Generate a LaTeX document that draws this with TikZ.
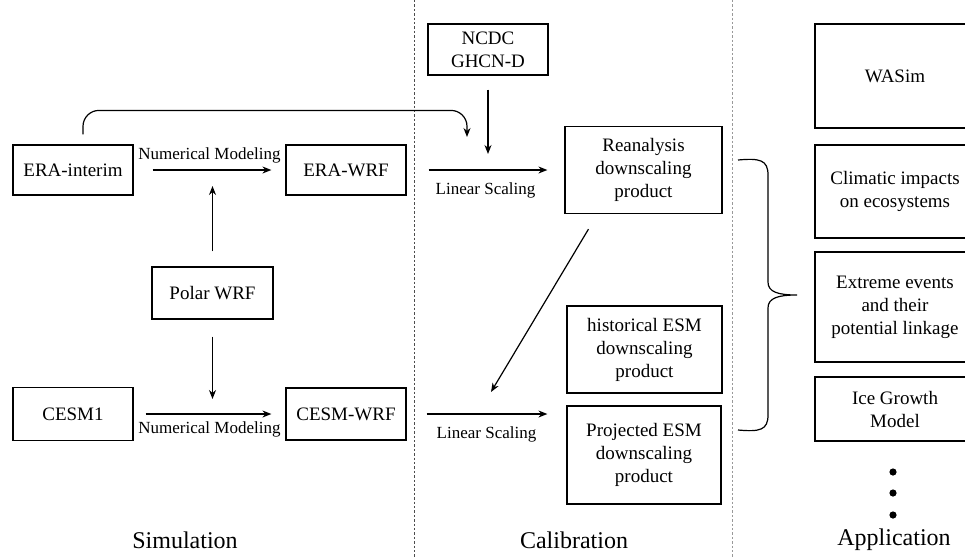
\documentclass[tikz,border=0pt]{standalone}
\usepackage{fontspec}
\setmainfont{Liberation Serif}
\usetikzlibrary{arrows.meta}
\begin{document}
\begin{tikzpicture}[x=0.5pt,y=-0.5pt,
  box/.style={draw, line width=0.6pt, align=center, inner sep=0pt, font=\fontsize{9.5}{11.5}\selectfont},
  lbl/.style={font=\fontsize{8.5}{10}\selectfont, inner sep=1pt},
  ttl/.style={font=\fontsize{12}{14}\selectfont},
  arr/.style={-{Stealth[length=4.5pt,width=3.5pt]}, line width=0.6pt},
  sep/.style={line width=0.4pt, dash pattern=on 1.2pt off 1pt}]
\useasboundingbox (0,0) rectangle (965,558);
\clip (0,0) rectangle (965,558);
% separators
\draw[sep, black!70] (414,0) -- (414,558);
\draw[sep, black!40] (732,0) -- (732,558);
% simulation
\node[box, minimum width=60pt, minimum height=25pt] (era) at (73,170) {ERA-interim};
\node[box, minimum width=60pt, minimum height=25pt] (erawrf) at (346,170) {ERA-WRF};
\node[box, minimum width=60.5pt, minimum height=26pt] (polar) at (212.5,293) {Polar WRF};
\node[box, minimum width=60pt, minimum height=26.5pt] (cesm) at (73,414) {CESM1};
\node[box, minimum width=60pt, minimum height=26pt] (cesmwrf) at (346,414) {CESM-WRF};
\coordinate (nm1) at (212.5,186);
\coordinate (nm2) at (212.5,399);
\draw[arr, shorten <=9.5pt, shorten >=7pt] (era) -- node[lbl, above=2pt]{Numerical Modeling} (erawrf);
\draw[arr, shorten <=6pt, shorten >=7pt] (cesm) -- node[lbl, below=2.5pt]{Numerical Modeling} (cesmwrf);
\draw[arr, shorten <=7.5pt] (polar) -- (nm1);
\draw[arr, shorten <=8.5pt] (polar) -- (nm2);
% calibration
\node[box, minimum width=60pt, minimum height=25.5pt] (ncdc) at (488,49.5) {NCDC\\GHCN-D};
\node[box, minimum width=78.5pt, minimum height=43.5pt] (rean) at (643.5,170) {Reanalysis\\downscaling\\product};
\node[box, minimum width=77.5pt, minimum height=43.5pt] (hist) at (644.5,349.5) {historical ESM\\downscaling\\product};
\node[box, minimum width=77pt, minimum height=49pt] (proj) at (644,455) {Projected ESM\\downscaling\\product};
\coordinate (ls0) at (467,137);
\coordinate (ls1) at (488,154);
\coordinate (dg) at (491,392);
\draw[arr, rounded corners=8pt] ([xshift=5pt,yshift=5pt]era.north) -- ++(0,-24) -| (ls0);
\draw[arr, shorten <=7pt] (ncdc) -- (ls1);
\draw[arr, shorten <=11pt, shorten >=8.5pt] (erawrf) -- node[lbl, below=5pt]{Linear Scaling} (rean);
\draw[arr, shorten <=10pt, shorten >=9.5pt] (cesmwrf.east) -- node[lbl, below=5pt]{Linear Scaling} (cesmwrf.east -| proj.west);
\draw[arr] ([xshift=-27.5pt,yshift=-7.5pt]rean.south) -- (dg);
% application
\node[box, minimum width=80pt, minimum height=52pt] (wasim) at (895,76) {WASim};
\node[box, minimum width=80pt, minimum height=46.5pt] (clim) at (895,191.5) {Climatic impacts\\on ecosystems};
\node[box, minimum width=80pt, minimum height=55pt] (extr) at (895,307) {Extreme events\\and their\\potential linkage};
\node[box, minimum width=80pt, minimum height=32pt] (ice) at (895,409) {Ice Growth\\Model};
\draw[line width=0.6pt] (738,160) .. controls (760,158) and (768,160) .. (768,175) -- (768,282)
  .. controls (768,292) and (778,295) .. (797,295)
  .. controls (778,295) and (768,298) .. (768,308) -- (768,415)
  .. controls (768,430) and (760,432) .. (738,430);
\node[circle, fill, inner sep=0pt, minimum size=3.6pt] (dot1) at (893,472) {};
\node[circle, fill, inner sep=0pt, minimum size=3.6pt] (dot2) at (893,493) {};
\node[circle, fill, inner sep=0pt, minimum size=3.6pt] (dot3) at (893,515) {};
% titles
\node[ttl] (sim) at (185,540) {Simulation};
\node[ttl] (cal) at (574,540) {Calibration};
\node[ttl] (app) at (894,540) {Application};
\end{tikzpicture}
\end{document}
